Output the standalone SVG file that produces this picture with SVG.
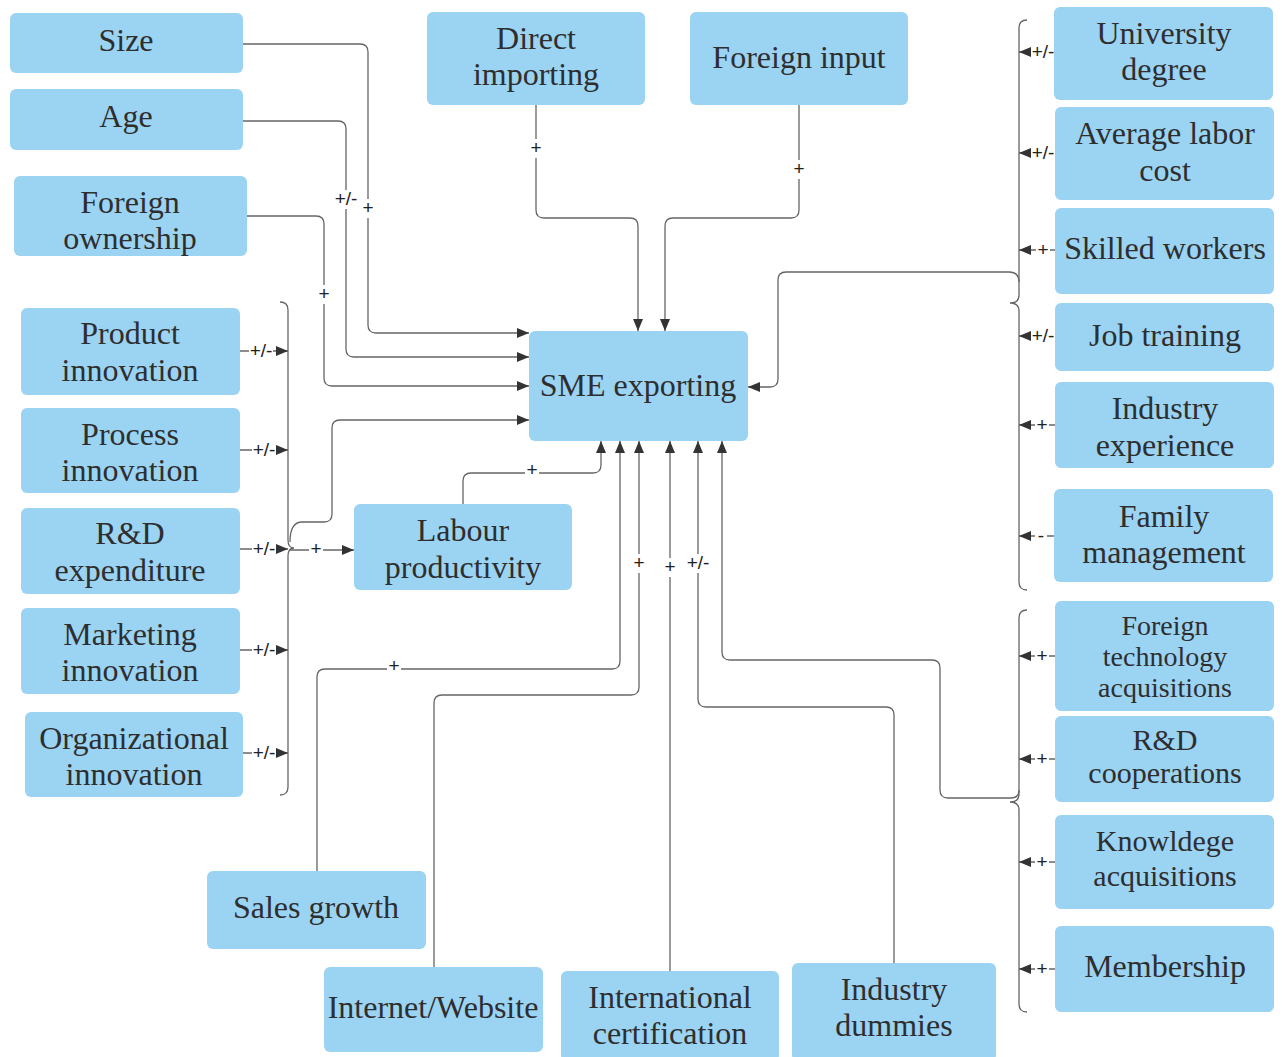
<svg xmlns="http://www.w3.org/2000/svg" width="1285" height="1057" viewBox="0 0 1285 1057">
<style>
.n rect{fill:#9bd3f3;}
.n text{font-family:"Liberation Serif","Times New Roman",serif;font-size:32px;fill:#2e2e2e;text-anchor:middle;}
.n text.s28{font-size:28px;}
.n text.s30{font-size:30px;}
.c path{fill:none;stroke:#666;stroke-width:1.3;}
.c path.a{marker-end:url(#ar);}
.lb rect{fill:#fff;}
.lb text{font-family:"Liberation Sans",Arial,sans-serif;font-size:19px;fill:#222;text-anchor:middle;}
</style>
<defs>
<marker id="ar" markerUnits="userSpaceOnUse" markerWidth="13" markerHeight="10" refX="12" refY="5" orient="auto">
<path d="M0,0 L12,5 L0,10 z" fill="#333"/>
</marker>
</defs>
<rect width="1285" height="1057" fill="#fff"/>

<g class="c" id="connectors">
<path class="a" d="M243,44 L360,44 Q368,44 368,52 L368,325 Q368,333 376,333 L529,333"/>
<path class="a" d="M243,121 L338,121 Q346,121 346,129 L346,349 Q346,357 354,357 L529,357"/>
<path class="a" d="M247,216 L316,216 Q324,216 324,224 L324,378 Q324,386 332,386 L529,386"/>
<path class="a" d="M536,105 L536,210 Q536,218 544,218 L630,218 Q638,218 638,226 L638,331"/>
<path class="a" d="M799,105 L799,210 Q799,218 791,218 L673,218 Q665,218 665,226 L665,331"/>
<path d="M280,302 Q288,302 288,310 L288,540 Q288,548 294,548 Q288,548 288,556 L288,787 Q288,795 280,795"/>
<path class="a" d="M240,351 L288,351"/>
<path class="a" d="M240,450 L288,450"/>
<path class="a" d="M240,549 L288,549"/>
<path class="a" d="M240,650 L288,650"/>
<path class="a" d="M243,753 L288,753"/>
<path class="a" d="M290,550 L354,550"/>
<path class="a" d="M290,542 Q290,522 302,522 L324,522 Q332,522 332,514 L332,428 Q332,420 340,420 L529,420"/>
<path class="a" d="M463,504 L463,481 Q463,473 471,473 L593,473 Q601,473 601,465 L601,441"/>
<path class="a" d="M317,871 L317,677 Q317,669 325,669 L612,669 Q620,669 620,661 L620,441"/>
<path class="a" d="M434,967 L434,703 Q434,695 442,695 L631,695 Q639,695 639,687 L639,441"/>
<path class="a" d="M670,971 L670,441"/>
<path class="a" d="M894,963 L894,715 Q894,707 886,707 L706,707 Q698,707 698,699 L698,441"/>
<path d="M1027,20 Q1019,20 1019,28 L1019,295 Q1019,303 1010,303 Q1019,303 1019,311 L1019,582 Q1019,590 1027,590"/>
<path d="M1027,610 Q1019,610 1019,618 L1019,794 Q1019,802 1010,802 Q1019,802 1019,810 L1019,1004 Q1019,1012 1027,1012"/>
<path class="a" d="M1019,282 Q1019,272 1009,272 L786,272 Q778,272 778,280 L778,379 Q778,387 770,387 L748,387"/>
<path class="a" d="M1019,790 Q1019,798 1011,798 L948,798 Q940,798 940,790 L940,668 Q940,660 932,660 L730,660 Q722,660 722,652 L722,441"/>
<path class="a" d="M1055,52 L1019,52"/>
<path class="a" d="M1055,153 L1019,153"/>
<path class="a" d="M1055,250 L1019,250"/>
<path class="a" d="M1055,336 L1019,336"/>
<path class="a" d="M1055,425 L1019,425"/>
<path class="a" d="M1055,536 L1019,536"/>
<path class="a" d="M1055,656 L1019,656"/>
<path class="a" d="M1055,759 L1019,759"/>
<path class="a" d="M1055,862 L1019,862"/>
<path class="a" d="M1055,969 L1019,969"/>
</g>

<g class="lb" id="labels">
<rect x="361" y="199" width="14" height="19"/><text x="368" y="214">+</text>
<rect x="333" y="190" width="26" height="19"/><text x="346" y="205">+/-</text>
<rect x="317" y="285" width="14" height="19"/><text x="324" y="300">+</text>
<rect x="529" y="139" width="14" height="19"/><text x="536" y="154">+</text>
<rect x="792" y="160" width="14" height="19"/><text x="799" y="175">+</text>
<rect x="249" y="342" width="24" height="19"/><text x="261" y="357">+/-</text>
<rect x="252" y="441" width="24" height="19"/><text x="264" y="456">+/-</text>
<rect x="252" y="540" width="24" height="19"/><text x="264" y="555">+/-</text>
<rect x="252" y="641" width="24" height="19"/><text x="264" y="656">+/-</text>
<rect x="252" y="744" width="24" height="19"/><text x="264" y="759">+/-</text>
<rect x="309" y="540" width="14" height="19"/><text x="316" y="555">+</text>
<rect x="525" y="461" width="14" height="19"/><text x="532" y="476">+</text>
<rect x="387" y="657" width="14" height="19"/><text x="394" y="672">+</text>
<rect x="632" y="554" width="14" height="19"/><text x="639" y="569">+</text>
<rect x="663" y="558" width="14" height="19"/><text x="670" y="573">+</text>
<rect x="685" y="554" width="26" height="19"/><text x="698" y="569">+/-</text>
<rect x="1031" y="43" width="24" height="19"/><text x="1043" y="58">+/-</text>
<rect x="1031" y="144" width="24" height="19"/><text x="1043" y="159">+/-</text>
<rect x="1036" y="241" width="14" height="19"/><text x="1043" y="256">+</text>
<rect x="1031" y="327" width="24" height="19"/><text x="1043" y="342">+/-</text>
<rect x="1035" y="416" width="14" height="19"/><text x="1042" y="431">+</text>
<rect x="1035" y="527" width="12" height="19"/><text x="1041" y="542">-</text>
<rect x="1035" y="647" width="14" height="19"/><text x="1042" y="662">+</text>
<rect x="1035" y="750" width="14" height="19"/><text x="1042" y="765">+</text>
<rect x="1035" y="853" width="14" height="19"/><text x="1042" y="868">+</text>
<rect x="1035" y="960" width="14" height="19"/><text x="1042" y="975">+</text>
</g>

<g class="n" id="size"><rect x="10" y="13" width="233" height="60" rx="6"/><text x="126" y="51">Size</text></g>
<g class="n" id="age"><rect x="10" y="89" width="233" height="61" rx="6"/><text x="126" y="127">Age</text></g>
<g class="n" id="foreign-ownership"><rect x="14" y="176" width="233" height="80" rx="6"/><text x="130" y="213">Foreign</text><text x="130" y="249">ownership</text></g>
<g class="n" id="direct-importing"><rect x="427" y="12" width="218" height="93" rx="6"/><text x="536" y="49">Direct</text><text x="536" y="85">importing</text></g>
<g class="n" id="foreign-input"><rect x="690" y="12" width="218" height="93" rx="6"/><text x="799" y="68">Foreign input</text></g>
<g class="n" id="sme-exporting"><rect x="529" y="331" width="219" height="110" rx="6"/><text x="638" y="396">SME exporting</text></g>
<g class="n" id="product-innovation"><rect x="21" y="308" width="219" height="87" rx="6"/><text x="130" y="344">Product</text><text x="130" y="381">innovation</text></g>
<g class="n" id="process-innovation"><rect x="21" y="408" width="219" height="85" rx="6"/><text x="130" y="445">Process</text><text x="130" y="481">innovation</text></g>
<g class="n" id="rd-expenditure"><rect x="21" y="508" width="219" height="86" rx="6"/><text x="130" y="544">R&amp;D</text><text x="130" y="581">expenditure</text></g>
<g class="n" id="marketing-innovation"><rect x="21" y="608" width="219" height="86" rx="6"/><text x="130" y="645">Marketing</text><text x="130" y="681">innovation</text></g>
<g class="n" id="organizational-innovation"><rect x="25" y="712" width="218" height="85" rx="6"/><text x="134" y="749">Organizational</text><text x="134" y="785">innovation</text></g>
<g class="n" id="labour-productivity"><rect x="354" y="504" width="218" height="86" rx="6"/><text x="463" y="541">Labour</text><text x="463" y="578">productivity</text></g>
<g class="n" id="sales-growth"><rect x="207" y="871" width="219" height="78" rx="6"/><text x="316" y="918">Sales growth</text></g>
<g class="n" id="internet-website"><rect x="324" y="967" width="219" height="85" rx="6"/><text x="433" y="1018">Internet/Website</text></g>
<g class="n" id="international-certification"><rect x="561" y="971" width="218" height="90" rx="6"/><text x="670" y="1008">International</text><text x="670" y="1044">certification</text></g>
<g class="n" id="industry-dummies"><rect x="792" y="963" width="204" height="98" rx="6"/><text x="894" y="1000">Industry</text><text x="894" y="1036">dummies</text></g>
<g class="n" id="university-degree"><rect x="1054" y="7" width="219" height="93" rx="6"/><text x="1164" y="44">University</text><text x="1164" y="80">degree</text></g>
<g class="n" id="average-labor-cost"><rect x="1055" y="107" width="219" height="93" rx="6"/><text x="1165" y="144">Average labor</text><text x="1165" y="181">cost</text></g>
<g class="n" id="skilled-workers"><rect x="1055" y="208" width="219" height="86" rx="6"/><text x="1165" y="259">Skilled workers</text></g>
<g class="n" id="job-training"><rect x="1055" y="303" width="219" height="68" rx="6"/><text x="1165" y="346">Job training</text></g>
<g class="n" id="industry-experience"><rect x="1055" y="382" width="219" height="86" rx="6"/><text x="1165" y="419">Industry</text><text x="1165" y="456">experience</text></g>
<g class="n" id="family-management"><rect x="1054" y="489" width="219" height="93" rx="6"/><text x="1164" y="527">Family</text><text x="1164" y="563">management</text></g>
<g class="n" id="foreign-technology-acquisitions"><rect x="1055" y="601" width="219" height="110" rx="6"/><text class="s28" x="1165" y="635">Foreign</text><text class="s28" x="1165" y="666">technology</text><text class="s28" x="1165" y="697">acquisitions</text></g>
<g class="n" id="rd-cooperations"><rect x="1055" y="716" width="219" height="86" rx="6"/><text class="s30" x="1165" y="750">R&amp;D</text><text class="s30" x="1165" y="783">cooperations</text></g>
<g class="n" id="knowldege-acquisitions"><rect x="1055" y="815" width="219" height="94" rx="6"/><text class="s30" x="1165" y="851">Knowldege</text><text class="s30" x="1165" y="886">acquisitions</text></g>
<g class="n" id="membership"><rect x="1055" y="926" width="219" height="86" rx="6"/><text x="1165" y="977">Membership</text></g>
</svg>
